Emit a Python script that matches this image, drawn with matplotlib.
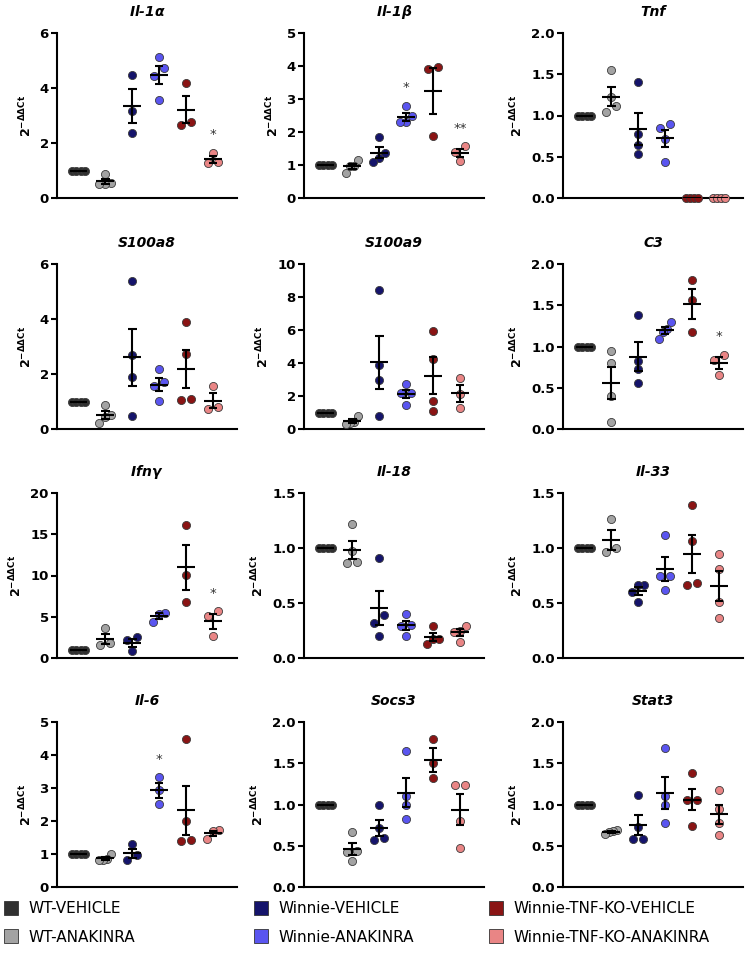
import numpy as np
import matplotlib.pyplot as plt
from matplotlib.lines import Line2D

plt.rcParams["font.family"] = "DejaVu Sans"
plt.rcParams["mathtext.fontset"] = "dejavusans"

groups = ["WT-VEHICLE", "WT-ANAKINRA", "Winnie-VEHICLE", "Winnie-ANAKINRA",
          "Winnie-TNF-KO-VEHICLE", "Winnie-TNF-KO-ANAKINRA"]
colors = ["#303030", "#a3a3a3", "#15146b", "#5a55f0", "#8a1414", "#e98585"]

# values per group (2^-ddCt)
il1a = [[1, 1, 1, 1], [0.88, 0.55, 0.52, 0.50], [4.48, 3.18, 2.36],
        [5.11, 4.73, 4.45, 3.55], [4.18, 2.78, 2.67], [1.64, 1.30, 1.27]]
il1b = [[1, 1, 1, 1], [1.14, 0.77, 0.98, 0.97], [1.85, 1.36, 1.21, 1.08],
        [2.80, 2.47, 2.29, 2.29], [3.96, 3.91, 1.87], [1.57, 1.40, 1.12]]
tnf = [[1, 1, 1, 1], [1.55, 1.22, 1.11, 1.04], [1.41, 0.77, 0.64, 0.53],
       [0.90, 0.85, 0.71, 0.44], [0, 0, 0, 0], [0, 0, 0, 0]]
s100a8 = [[1, 1, 1, 1], [0.88, 0.52, 0.45, 0.22], [5.38, 2.70, 1.89, 0.46],
          [2.17, 1.70, 1.55, 1.03], [3.89, 2.72, 1.09, 1.06], [1.58, 0.79, 0.73]]
s100a9 = [[1, 1, 1, 1], [0.80, 0.45, 0.35, 0.30], [8.45, 3.88, 3.00, 0.80],
          [2.70, 2.16, 2.16, 1.46], [5.94, 4.23, 1.71, 1.07], [3.08, 2.15, 1.27]]
c3 = [[1, 1, 1, 1], [0.94, 0.80, 0.40, 0.08], [1.38, 0.83, 0.73, 0.56],
      [1.30, 1.21, 1.18, 1.09], [1.81, 1.56, 1.18], [0.90, 0.84, 0.66]]
ifng = [[1, 1, 1, 1], [3.6, 1.8, 1.6], [2.5, 2.2, 0.8],
        [5.5, 5.3, 4.4], [16.1, 10.1, 6.75], [5.66, 5.05, 2.63]]
il18 = [[1, 1, 1, 1], [1.22, 0.97, 0.86, 0.87], [0.91, 0.39, 0.32, 0.20],
        [0.40, 0.30, 0.29, 0.20], [0.29, 0.17, 0.17, 0.13], [0.29, 0.25, 0.24, 0.15]]
il33 = [[1, 1, 1, 1], [1.26, 1.00, 0.96], [0.66, 0.66, 0.60, 0.51],
        [1.12, 0.75, 0.75, 0.62], [1.39, 1.06, 0.68, 0.66], [0.95, 0.81, 0.51, 0.36]]
il6 = [[1, 1, 1, 1], [1.01, 0.86, 0.83, 0.81], [1.29, 0.96, 0.83],
       [3.33, 2.93, 2.53], [4.49, 2.00, 1.41, 1.38], [1.72, 1.70, 1.46]]
socs3 = [[1, 1, 1, 1], [0.67, 0.44, 0.42, 0.32], [0.99, 0.71, 0.60, 0.57],
         [1.65, 1.10, 1.00, 0.82], [1.80, 1.50, 1.32], [1.24, 1.24, 0.80, 0.47]]
stat3 = [[1, 1, 1, 1], [0.69, 0.68, 0.67, 0.64], [1.11, 0.73, 0.58, 0.58],
         [1.69, 1.10, 0.99, 0.78], [1.38, 1.06, 1.06, 0.74], [1.17, 0.94, 0.78, 0.63]]

titles = [r"Il-1$\boldsymbol{\alpha}$", r"Il-1$\boldsymbol{\beta}$", "Tnf",
          "S100a8", "S100a9", "C3",
          r"Ifn$\boldsymbol{\gamma}$", "Il-18", "Il-33",
          "Il-6", "Socs3", "Stat3"]
panels = [il1a, il1b, tnf, s100a8, s100a9, c3, ifng, il18, il33, il6, socs3, stat3]
ymaxs = [6, 5, 2.0, 6, 10, 2.0, 20, 1.5, 1.5, 5, 2.0, 2.0]
ysteps = [2, 1, 0.5, 2, 2, 0.5, 5, 0.5, 0.5, 1, 0.5, 0.5]
stars = {0: [(5, "*")], 1: [(3, "*"), (5, "**")], 5: [(5, "*")],
         6: [(5, "*")], 9: [(3, "*")]}

AX_W, AX_H = 180, 165
lefts = [57, 304, 563]
tops = [33, 264, 493, 722]


def spread(vals, ymax, xc):
    # simple centred swarm: points closer than a marker get put side by side
    vals = np.asarray(vals, float)
    px = AX_H / ymax
    order = np.argsort(vals)
    xs = np.zeros(len(vals))
    clusters = []
    for i in order:
        if clusters and (vals[i] - vals[clusters[-1][-1]]) * px < 8:
            clusters[-1].append(i)
        else:
            clusters.append([i])
    for c in clusters:
        n = len(c)
        step = min(0.37, 0.45 / (n - 1)) if n > 1 else 0
        for k, i in enumerate(c):
            xs[i] = xc + (k - (n - 1) / 2) * step
    return xs


fig = plt.figure(figsize=(7.47, 9.58), dpi=100)

for p, data in enumerate(panels):
    r, c = divmod(p, 3)
    ax = fig.add_axes([lefts[c] / 747, 1 - (tops[r] + AX_H) / 958, AX_W / 747, AX_H / 958])
    ymax = ymaxs[p]
    for g, vals in enumerate(data):
        xs = spread(vals, ymax, g)
        ax.scatter(xs, vals, s=34, color=colors[g], edgecolor="#3a3a3a",
                   linewidth=0.6, zorder=3, clip_on=False)
        m = np.mean(vals)
        se = np.std(vals, ddof=1) / np.sqrt(len(vals))
        ax.hlines(m, g - 0.33, g + 0.33, color="k", lw=1.5, zorder=4)
        if se > 0:
            ax.vlines(g, m - se, m + se, color="k", lw=1.5, zorder=4)
            ax.hlines([m - se, m + se], g - 0.16, g + 0.16, color="k", lw=1.5, zorder=4)
    for g, txt in stars.get(p, []):
        ax.text(g, max(data[g]) + 0.07 * ymax, txt, ha="center", va="bottom",
                fontsize=9.5, color="#333333")

    ax.set_xlim(-0.8, 5.9)
    ax.set_ylim(0, ymax)
    ticks = np.arange(0, ymax + 1e-9, ysteps[p])
    ax.set_yticks(ticks)
    if ysteps[p] < 1:
        ax.set_yticklabels([f"{t:.1f}" for t in ticks])
    else:
        ax.set_yticklabels([f"{t:.0f}" for t in ticks])
    ax.set_xticks([])
    for s in ["top", "right"]:
        ax.spines[s].set_visible(False)
    for s in ["left", "bottom"]:
        ax.spines[s].set_linewidth(1.5)
    ax.tick_params(axis="y", width=1.5, length=4, labelsize=9.5, pad=2)
    for lab in ax.get_yticklabels():
        lab.set_fontweight("bold")
    ax.set_ylabel(r"$\mathbf{2^{-\Delta\Delta Ct}}$", fontsize=9, labelpad=4)
    ax.set_title(titles[p], fontsize=10, fontweight="bold", style="italic", pad=12)

# legend in three columns
leg_x = [3, 253, 488]
for col in range(3):
    handles = []
    labels = []
    for gi in (col * 2, col * 2 + 1):
        handles.append(Line2D([], [], ls="none", marker="s", markersize=10,
                              markerfacecolor=colors[gi], markeredgecolor="#333333",
                              markeredgewidth=0.6))
        labels.append(groups[gi])
    fig.legend(handles, labels, loc="upper left",
               bbox_to_anchor=(leg_x[col] / 747, 1 - 901 / 958),
               frameon=False, handlelength=1, handletextpad=0.7,
               labelspacing=0.9, borderpad=0, borderaxespad=0, fontsize=11)

fig.savefig("out.png", dpi=100)
